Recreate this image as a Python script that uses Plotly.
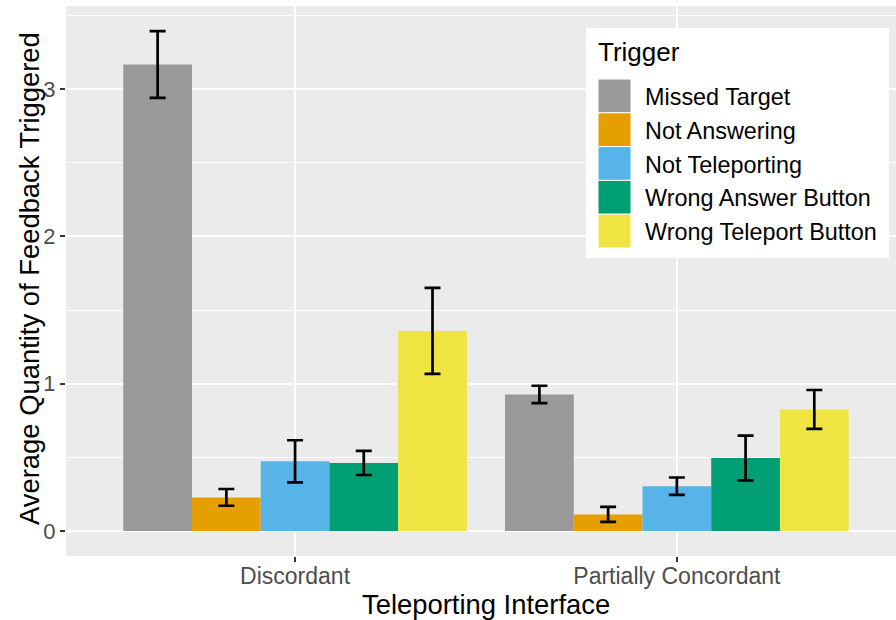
import plotly.graph_objects as go

# Feedback counts by teleporting interface and trigger type (mean +/- standard error)
interfaces = ["Discordant", "Partially Concordant"]
triggers = ["Missed Target", "Not Answering", "Not Teleporting",
            "Wrong Answer Button", "Wrong Teleport Button"]
colors = ["#999999", "#E69F00", "#56B4E9", "#009E73", "#F0E442"]

missed_target = [3.167, 0.927]
not_answering = [0.228, 0.112]
not_teleporting = [0.473, 0.304]
wrong_answer_button = [0.462, 0.495]
wrong_teleport_button = [1.358, 0.825]

missed_target_se = [0.227, 0.059]
not_answering_se = [0.057, 0.051]
not_teleporting_se = [0.143, 0.059]
wrong_answer_button_se = [0.082, 0.152]
wrong_teleport_button_se = [0.292, 0.132]

means = [missed_target, not_answering, not_teleporting,
         wrong_answer_button, wrong_teleport_button]
errors = [missed_target_se, not_answering_se, not_teleporting_se,
          wrong_answer_button_se, wrong_teleport_button_se]

FONT = "Liberation Sans, Arial, Helvetica, sans-serif"
W, H = 896, 620
ML, MR, MT, MB = 66, 0, 6, 64
PW, PH = W - ML - MR, H - MT - MB

fig = go.Figure()
for name, col, m, e in zip(triggers, colors, means, errors):
    fig.add_trace(go.Bar(
        x=interfaces, y=m, name=name,
        marker=dict(color=col, line=dict(width=0)),
        error_y=dict(type="data", array=e, visible=True,
                     color="black", thickness=2.7, width=8),
        showlegend=False,
    ))


def px_x(px):
    return (px - ML) / PW


def px_y(py):
    return (H - MB - py) / PH


# Legend panel drawn as shapes/annotations
shapes = [dict(type="rect", xref="paper", yref="paper",
               x0=px_x(586), x1=px_x(889), y0=px_y(258), y1=px_y(28),
               fillcolor="white", line=dict(width=0), layer="above")]
annotations = [dict(text="Trigger", xref="paper", yref="paper",
                    x=px_x(596), y=px_y(52), xanchor="left", yanchor="middle",
                    showarrow=False, font=dict(family=FONT, size=26, color="black"))]
row_h = 33.8
for i, (name, col) in enumerate(zip(triggers, colors)):
    top = 79 + i * row_h
    shapes.append(dict(type="rect", xref="paper", yref="paper",
                       x0=px_x(598), x1=px_x(631), y0=px_y(top + row_h), y1=px_y(top),
                       fillcolor=col, line=dict(color="white", width=1), layer="above"))
    annotations.append(dict(text=name, xref="paper", yref="paper",
                            x=px_x(643), y=px_y(top + row_h / 2 + 1),
                            xanchor="left", yanchor="middle", showarrow=False,
                            font=dict(family=FONT, size=23.4, color="black")))

# Axis titles
annotations.append(dict(text="Teleporting Interface", xref="paper", yref="paper",
                        x=px_x(486), y=px_y(604), xanchor="center", yanchor="middle",
                        showarrow=False, font=dict(family=FONT, size=27.4, color="black")))
annotations.append(dict(text="Average Quantity of Feedback Triggered", xref="paper",
                        yref="paper", x=px_x(29), y=px_y(279), xanchor="center",
                        yanchor="middle", textangle=-90, showarrow=False,
                        font=dict(family=FONT, size=27.4, color="black")))

fig.update_layout(
    width=W, height=H,
    margin=dict(l=ML, r=MR, t=MT, b=MB, pad=0),
    paper_bgcolor="white", plot_bgcolor="#EBEBEB",
    barmode="group", bargap=0.1, bargroupgap=0,
    font=dict(family=FONT),
    shapes=shapes, annotations=annotations,
    xaxis=dict(
        type="category", range=[-0.6, 1.574],
        showgrid=True, gridcolor="white", gridwidth=1.6,
        ticks="outside", ticklen=5, tickwidth=1.5, tickcolor="#333333",
        ticklabelstandoff=-6,
        tickfont=dict(family=FONT, size=23, color="#4D4D4D"),
        showline=False, zeroline=False, fixedrange=True,
    ),
    yaxis=dict(
        range=[-0.170, 3.564], tickvals=[0, 1, 2, 3],
        showgrid=True, gridcolor="white", gridwidth=1.6,
        minor=dict(dtick=0.5, showgrid=True, gridcolor="white", gridwidth=0.8),
        ticks="outside", ticklen=5, tickwidth=1.5, tickcolor="#333333",
        tickfont=dict(family=FONT, size=22, color="#4D4D4D"),
        showline=False, zeroline=False, fixedrange=True,
    ),
)

fig.write_html("out.html", config={"displayModeBar": False})
